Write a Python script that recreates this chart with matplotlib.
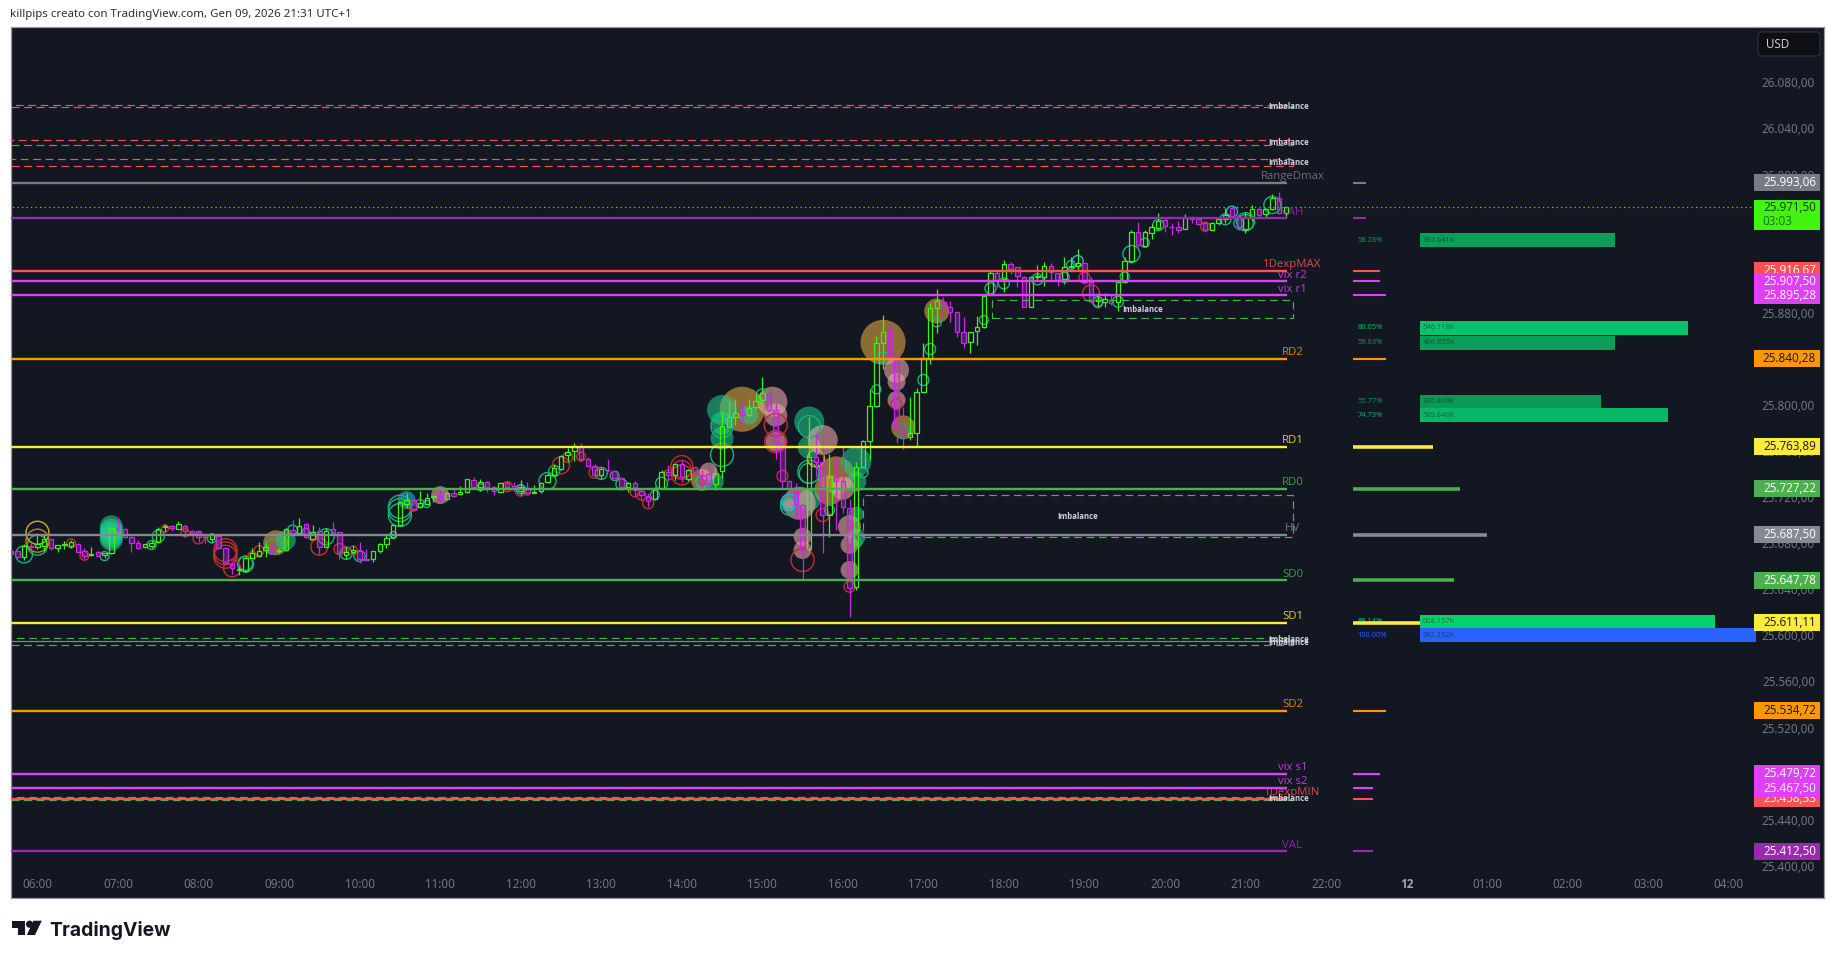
import matplotlib
matplotlib.use("Agg")
import matplotlib.pyplot as plt
import numpy as np
from matplotlib.patches import FancyBboxPatch, Polygon, Circle, Rectangle
from matplotlib.transforms import Affine2D

# 5 minute candles, first one is four bars before the 06:00 tick
first_bar = -4
opens = [
    25673.5, 25673.2, 25667.7, 25677.8, 25677.0, 25677.5, 25683.3, 25675.5, 25678.1, 25677.8,
    25679.0, 25673.5, 25669.4, 25672.0, 25669.4, 25671.2, 25692.6, 25692.0, 25685.0, 25679.9,
    25676.4, 25677.5, 25681.3, 25694.3, 25695.2, 25692.6, 25695.2, 25690.9, 25690.9, 25685.6,
    25683.9, 25686.2, 25675.5, 25661.9, 25656.7, 25656.1, 25667.4, 25669.2, 25674.4, 25676.4,
    25673.2, 25674.0, 25691.4, 25689.1, 25696.4, 25683.6, 25690.3, 25677.0, 25692.0, 25689.4,
    25669.7, 25672.3, 25673.5, 25666.0, 25666.5, 25673.5, 25679.3, 25685.6, 25695.8, 25714.3,
    25717.5, 25711.1, 25714.3, 25720.4, 25721.2, 25718.1, 25723.3, 25722.4, 25724.1, 25734.8,
    25729.1, 25733.4, 25729.1, 25724.8, 25732.0, 25730.0, 25725.7, 25727.4, 25723.9, 25725.7,
    25733.2, 25739.3, 25744.5, 25756.3, 25760.4, 25763.8, 25752.9, 25747.1, 25739.3, 25743.9,
    25742.7, 25736.9, 25729.1, 25732.6, 25725.4, 25721.3, 25718.7, 25727.7, 25741.6, 25739.0,
    25748.5, 25736.1, 25745.9, 25739.3, 25739.8, 25731.2, 25742.4, 25781.2, 25789.9, 25793.7,
    25791.3, 25798.0, 25804.4, 25810.2, 25795.7, 25767.3, 25733.8, 25726.8, 25713.5, 25675.0,
    25755.2, 25750.3, 25704.2, 25737.2, 25733.8, 25710.9, 25642.3, 25746.5, 25768.5, 25799.4,
    25853.5, 25863.6, 25841.9, 25780.6, 25771.9, 25775.4, 25810.9, 25839.6, 25883.9, 25889.7,
    25885.3, 25880.4, 25863.6, 25854.9, 25864.5, 25867.4, 25895.7, 25914.3, 25909.3, 25922.1,
    25919.5, 25911.4, 25885.3, 25911.4, 25911.4, 25920.9, 25914.8, 25909.3, 25919.5, 25920.6,
    25922.9, 25906.5, 25890.2, 25889.7, 25890.8, 25889.7, 25907.0, 25924.7, 25950.4, 25938.3,
    25949.6, 25953.9, 25960.6, 25954.8, 25954.2, 25953.0, 25962.6, 25961.4, 25958.3, 25952.2,
    25958.3, 25961.2, 25970.7, 25963.5, 25953.0, 25962.9, 25969.8, 25965.5, 25970.1, 25979.4,
    25966.4,
]
highs = [
    25674.0, 25674.0, 25679.3, 25679.9, 25689.1, 25687.1, 25683.9, 25678.4, 25681.6, 25682.7,
    25679.9, 25675.5, 25676.4, 25673.5, 25671.8, 25694.3, 25701.6, 25692.9, 25686.2, 25682.7,
    25679.6, 25682.7, 25694.3, 25696.6, 25695.8, 25699.2, 25696.4, 25691.4, 25691.4, 25687.1,
    25688.5, 25687.1, 25677.0, 25663.9, 25659.6, 25668.9, 25675.5, 25681.0, 25679.9, 25679.9,
    25675.2, 25692.9, 25700.1, 25702.1, 25697.2, 25695.8, 25694.3, 25692.9, 25698.4, 25690.0,
    25677.5, 25678.4, 25681.3, 25674.6, 25673.5, 25679.9, 25687.1, 25696.6, 25716.1, 25723.9,
    25719.0, 25725.3, 25723.3, 25721.8, 25727.6, 25724.4, 25727.6, 25729.6, 25735.7, 25737.2,
    25735.4, 25734.0, 25729.6, 25732.6, 25734.3, 25733.5, 25734.9, 25733.5, 25730.6, 25733.5,
    25740.7, 25748.8, 25756.6, 25762.4, 25766.8, 25766.8, 25754.6, 25748.8, 25745.9, 25753.1,
    25743.6, 25737.8, 25733.2, 25734.3, 25727.7, 25723.3, 25729.1, 25743.6, 25747.9, 25748.8,
    25752.3, 25744.2, 25746.5, 25743.6, 25748.8, 25745.0, 25794.2, 25803.8, 25805.0, 25802.9,
    25805.0, 25810.2, 25824.0, 25811.6, 25802.0, 25768.2, 25734.9, 25732.0, 25714.7, 25789.9,
    25776.0, 25769.6, 25757.5, 25755.2, 25763.3, 25718.1, 25750.8, 25769.6, 25813.6, 25859.9,
    25878.1, 25870.3, 25846.3, 25798.5, 25807.2, 25814.4, 25853.5, 25888.2, 25900.4, 25894.0,
    25890.5, 25880.4, 25876.0, 25863.6, 25877.2, 25894.9, 25916.6, 25917.2, 25925.8, 25924.4,
    25919.5, 25912.0, 25912.0, 25921.5, 25924.4, 25923.5, 25914.8, 25928.2, 25928.2, 25935.1,
    25922.9, 25911.4, 25897.5, 25896.9, 25895.5, 25908.5, 25928.2, 25951.9, 25959.1, 25951.9,
    25957.1, 25966.4, 25961.2, 25958.3, 25959.4, 25965.8, 25964.0, 25963.5, 25959.1, 25959.1,
    25962.9, 25970.7, 25972.1, 25964.9, 25967.8, 25973.6, 25970.7, 25970.7, 25983.1, 25984.9,
    25971.6,
]
lows = [
    25669.7, 25666.8, 25665.4, 25675.5, 25675.0, 25673.5, 25674.0, 25672.6, 25675.0, 25676.1,
    25672.0, 25666.0, 25669.2, 25668.9, 25667.4, 25670.6, 25690.0, 25684.2, 25672.6, 25675.0,
    25676.1, 25675.5, 25680.4, 25690.0, 25690.9, 25692.0, 25685.6, 25688.0, 25680.7, 25680.4,
    25681.3, 25675.5, 25661.9, 25653.2, 25652.4, 25655.3, 25666.8, 25668.3, 25668.3, 25670.3,
    25671.2, 25673.5, 25685.6, 25688.5, 25684.8, 25683.3, 25670.6, 25676.4, 25688.5, 25666.5,
    25666.0, 25670.6, 25663.0, 25664.5, 25663.9, 25671.8, 25675.8, 25684.2, 25694.9, 25710.2,
    25708.2, 25710.2, 25713.4, 25716.0, 25716.3, 25717.5, 25719.8, 25721.8, 25723.6, 25727.9,
    25725.6, 25724.7, 25721.8, 25724.2, 25727.7, 25725.7, 25721.9, 25723.3, 25723.9, 25723.9,
    25732.6, 25738.4, 25743.6, 25750.8, 25751.4, 25751.4, 25746.5, 25737.8, 25735.5, 25742.1,
    25735.5, 25728.0, 25724.8, 25719.9, 25718.1, 25711.8, 25717.5, 25726.8, 25734.9, 25734.9,
    25733.5, 25734.3, 25739.3, 25726.8, 25729.7, 25726.2, 25736.4, 25779.8, 25782.7, 25785.6,
    25789.9, 25796.3, 25802.9, 25794.2, 25753.4, 25726.8, 25726.2, 25700.8, 25648.1, 25672.7,
    25737.8, 25671.8, 25685.7, 25691.5, 25706.0, 25615.7, 25639.4, 25745.9, 25752.3, 25798.5,
    25830.9, 25839.0, 25766.7, 25761.5, 25769.6, 25763.8, 25810.1, 25835.5, 25862.2, 25875.2,
    25872.3, 25859.3, 25849.2, 25844.8, 25852.0, 25866.5, 25895.2, 25902.1, 25898.3, 25913.7,
    25902.1, 25885.3, 25885.3, 25908.5, 25903.3, 25908.5, 25903.3, 25905.0, 25918.6, 25917.2,
    25905.0, 25888.2, 25885.3, 25885.3, 25886.8, 25881.9, 25906.2, 25923.5, 25937.4, 25937.4,
    25943.8, 25951.9, 25950.4, 25947.5, 25949.0, 25952.8, 25957.7, 25956.5, 25950.4, 25951.9,
    25956.2, 25957.7, 25962.0, 25951.9, 25949.0, 25960.0, 25963.5, 25963.5, 25969.3, 25965.8,
    25962.0,
]
closes = [
    25670.6, 25667.7, 25677.8, 25677.0, 25679.3, 25683.3, 25675.5, 25678.1, 25679.0, 25680.7,
    25672.6, 25669.2, 25670.3, 25669.2, 25671.2, 25692.9, 25692.0, 25685.0, 25680.4, 25675.8,
    25679.0, 25680.4, 25692.6, 25695.2, 25693.2, 25696.4, 25690.9, 25688.8, 25685.0, 25685.0,
    25686.8, 25676.1, 25662.5, 25658.4, 25657.3, 25667.4, 25671.2, 25672.9, 25676.4, 25671.8,
    25674.0, 25692.0, 25688.5, 25695.2, 25685.4, 25690.0, 25677.0, 25690.9, 25689.1, 25671.2,
    25672.6, 25673.8, 25666.0, 25665.4, 25672.9, 25679.3, 25684.2, 25695.5, 25715.5, 25717.2,
    25710.0, 25714.6, 25719.5, 25721.2, 25716.9, 25723.3, 25721.0, 25724.1, 25735.4, 25728.5,
    25733.1, 25728.5, 25725.0, 25732.0, 25729.1, 25726.8, 25729.1, 25723.9, 25724.8, 25732.6,
    25739.5, 25745.1, 25756.0, 25759.2, 25764.7, 25752.9, 25747.4, 25739.3, 25744.8, 25743.3,
    25736.6, 25729.1, 25732.6, 25726.2, 25721.9, 25717.0, 25728.0, 25741.6, 25739.0, 25748.5,
    25737.2, 25743.3, 25740.7, 25738.7, 25731.2, 25740.7, 25781.8, 25789.9, 25793.4, 25791.6,
    25797.1, 25803.8, 25810.2, 25795.7, 25767.3, 25734.3, 25727.4, 25714.1, 25674.1, 25755.2,
    25750.8, 25704.5, 25737.2, 25734.3, 25711.8, 25641.4, 25746.5, 25768.5, 25799.2, 25853.5,
    25863.6, 25841.9, 25779.7, 25771.9, 25775.4, 25811.5, 25839.6, 25883.9, 25890.2, 25885.3,
    25880.4, 25863.6, 25854.1, 25863.6, 25867.4, 25894.9, 25914.3, 25908.5, 25922.1, 25918.3,
    25912.2, 25885.3, 25911.4, 25912.2, 25920.9, 25915.1, 25908.5, 25919.5, 25920.6, 25922.9,
    25906.5, 25890.5, 25891.1, 25891.7, 25888.8, 25907.0, 25924.7, 25950.4, 25938.9, 25949.9,
    25954.2, 25960.0, 25955.4, 25954.2, 25952.2, 25962.0, 25961.7, 25957.4, 25951.9, 25957.7,
    25961.2, 25964.6, 25963.5, 25952.5, 25963.5, 25969.8, 25964.9, 25970.1, 25979.7, 25966.4,
    25971.5,
]

# bubbles: bar, price, diameter
green_ring_bars = [-2, 0, 10, 17, 18, 26, 31, 31, 35, 38, 40, 43, 46, 48, 53, 54, 54, 54, 57, 58, 66,
                   76, 77, 84, 86, 87, 92, 93, 102, 102, 108, 115, 115, 115, 112, 112, 123, 122, 118,
                   125, 126, 129, 132, 133, 134, 141, 142, 144, 149, 153, 154, 161, 162, 163, 165,
                   167, 177, 179, 180, 180, 184]
green_ring_prices = [25670.3, 25678.4, 25668.9, 25678.4, 25686.2, 25684.2, 25661.9, 25662.5, 25677.0,
                     25691.4, 25690.0, 25685.6, 25671.2, 25668.9, 25687.1, 25711.7, 25708.8, 25704.5,
                     25714.6, 25714.0, 25728.5, 25734.0, 25742.7, 25740.7, 25738.4, 25731.2, 25721.9,
                     25732.0, 25756.6, 25781.2, 25808.7, 25781.2, 25742.1, 25740.7, 25714.7, 25711.8,
                     25741.3, 25680.5, 25708.9, 25813.6, 25841.3, 25776.2, 25821.7, 25848.6, 25871.7,
                     25873.8, 25901.2, 25905.6, 25909.1, 25910.8, 25921.5, 25889.7, 25911.4, 25931.1,
                     25940.9, 25956.2, 25961.2, 25957.7, 25959.1, 25958.3, 25973.6]
green_ring_sizes = [17, 20, 9, 9, 12, 9, 16, 14, 15, 10, 7, 16, 12, 11, 7, 23, 23, 23, 8, 7, 7,
                    17, 11, 12, 9, 11, 9, 12, 23, 22, 12, 22, 23, 20, 17, 17, 10, 10, 10,
                    9, 11, 12, 11, 11, 9, 9, 11, 11, 11, 10, 9, 11, 9, 17, 9, 11, 11, 10, 18, 16, 17]

red_ring_bars = [7, 5, 19, 22, 24, 28, 28, 28, 29, 32, 33, 41, 42, 45, 47, 56, 70, 72, 73, 78, 79, 81,
                 83, 89, 90, 91, 94, 96, 96, 96, 110, 110, 111, 114, 117, 121, 128, 156, 157, 158, 174]
red_ring_prices = [25669.2, 25679.9, 25692.9, 25689.1, 25684.2, 25674.0, 25671.2, 25668.3, 25658.2,
                   25669.2, 25673.5, 25685.6, 25677.0, 25675.0, 25673.5, 25712.3, 25729.1, 25725.7,
                   25724.8, 25747.6, 25754.6, 25755.2, 25741.3, 25724.2, 25721.3, 25714.7, 25739.3,
                   25746.5, 25743.6, 25739.3, 25782.7, 25768.2, 25738.4, 25665.5, 25704.5, 25642.3,
                   25800.8, 25910.5, 25896.9, 25888.2, 25954.8]
red_ring_sizes = [9, 9, 7, 8, 11, 23, 23, 23, 17, 8, 10, 8, 17, 11, 9, 10, 10, 11, 7, 17, 10, 9,
                  11, 9, 9, 11, 10, 22, 19, 20, 23, 22, 11, 23, 13, 11, 11, 11, 17, 9, 9]

cyan_ring_bars = [72, 99, 155, 158, 178, 112]
cyan_ring_prices = [25726.8, 25733.5, 25925.0, 25889.7, 25967.8, 25716.1]
cyan_ring_sizes = [9, 12, 11, 10, 11, 15]

yellow_ring_bars = [0, 116]
yellow_ring_prices = [25689.1, 25753.7]
yellow_ring_sizes = [23, 17]
orange_ring_bars = [0]
orange_ring_prices = [25682.2]
orange_ring_sizes = [23]

teal_bars = [11, 11, 11, 11, 11, 37, 101, 102, 102, 102, 106, 115, 115, 115, 122, 122, 122, 122]
teal_prices = [25694.3, 25691.4, 25688.5, 25685.6, 25683.3, 25682.7, 25733.5, 25795.7, 25784.1, 25771.1,
               25791.3, 25785.6, 25763.3, 25717.5, 25750.8, 25733.5, 25705.4, 25685.1]
teal_sizes = [23, 23, 23, 23, 23, 20, 17, 30, 23, 23, 19, 30, 23, 22, 30, 20, 15, 18]

blue_bars = [55, 112]
blue_prices = [25717.5, 25714.1]
blue_sizes = [18, 14]

pink_bars = [60, 100, 109.5, 110, 110, 117, 113.5, 114, 114, 120, 121, 121, 121, 128, 128, 128]
pink_prices = [25721.8, 25742.2, 25802.9, 25791.3, 25768.2, 25769.6, 25714.7, 25685.7, 25674.1, 25727.7,
               25694.4, 25678.5, 25656.8, 25830.3, 25820.2, 25804.3]
pink_sizes = [18, 18, 30, 23, 20, 30, 33, 18, 18, 23, 23, 18, 18, 25, 18, 18]

gold_bars = [35.5, 99, 105, 119, 118, 126, 129, 134]
gold_prices = [25680.4, 25734.9, 25796.3, 25739.3, 25726.2, 25854.4, 25780.6, 25881.6]
gold_sizes = [25, 22, 45, 37, 30, 45, 24, 25]

# horizontal levels
level_names = ["RangeDmax", "VAH", "1DexpMAX", "vix r2", "vix r1", "RD2", "RD1", "RD0", "HV", "SD0",
               "SD1", "SD2", "vix s1", "vix s2", "1DexpMIN", "VAL"]
level_prices = [25993.06, 25962.0, 25916.67, 25907.50, 25895.28, 25840.28, 25763.89, 25727.22, 25687.50,
                25647.78, 25611.11, 25534.72, 25479.72, 25467.50, 25458.33, 25412.50]
level_colors = ["#787b86", "#9c27b0", "#ff5252", "#e040fb", "#e040fb", "#ff9800", "#ffeb3b", "#4caf50",
                "#868993", "#4caf50", "#ffeb3b", "#ff9800", "#e040fb", "#e040fb", "#ff5252", "#9c27b0"]
level_stubs = [2, 2, 4, 4, 5, 5, 12, 16, 20, 15, 10, 5, 4, 3, 3, 3]

# imbalance boxes
imb_tops = [26060.2, 26029.8, 26013.3, 25598.0, 25595.4, 25460.0, 25721.6, 25891.2]
imb_bottoms = [26058.4, 26025.4, 26007.2, 25595.4, 25591.7, 25457.0, 25685.2, 25875.3]
imb_starts = [-6, -6, -6, -6, -6, -6, 123, 142.2]
imb_label_bars = [186.5, 186.5, 186.5, 186.5, 186.5, 186.5, 155, 164.6]
imb_colors = ["#ff5252", "#ff5252", "#ff5252", "#4caf50", "#4caf50", "#4caf50", "#4caf50", "#4caf50"]

# volume rows on the right
row_prices = [25943.0, 25867.0, 25854.0, 25803.0, 25791.0, 25612.0, 25600.0]
row_percents = [58.28, 80.05, 59.63, 55.77, 74.73, 89.14, 100.00]
row_volumes = ["397.641K", "546.118K", "406.855K", "380.469K", "509.846K", "608.157K", "682.252K"]
row_colors = ["#0a9e58", "#05c46b", "#0a9e58", "#0a9a55", "#06b866", "#02d26c", "#2962ff"]

time_ticks = [0, 12, 24, 36, 48, 60, 72, 84, 96, 108, 120, 132, 144, 156, 168, 180, 192, 204, 216, 228, 240, 252]
time_labels = ["06:00", "07:00", "08:00", "09:00", "10:00", "11:00", "12:00", "13:00", "14:00", "15:00", "16:00",
               "17:00", "18:00", "19:00", "20:00", "21:00", "22:00", "12", "01:00", "02:00", "03:00", "04:00"]
price_ticks = [25400, 25440, 25480, 25520, 25560, 25600, 25640, 25680, 25720, 25760, 25800, 25840, 25880,
               25920, 25960, 26000, 26040, 26080]
last_price = 25971.50
countdown = "03:03"

BG = "#131722"
GREEN = "#3cf50c"
MAGENTA = "#c926e8"
DARK_TEXT = ["#ff9800", "#ffeb3b"]
FONT = "Open Sans"


def main():
    fig, ax = make_axes()
    draw_bubbles(ax)
    draw_candles(ax)
    draw_levels(ax)
    draw_imbalances(ax)
    draw_rows(ax)
    draw_price_labels(ax)
    draw_furniture(fig)
    fig.savefig("out.png", dpi=100, facecolor="white")


def fmt_price(p):
    return f"{p:,.2f}".replace(",", "X").replace(".", ",").replace("X", ".")


def make_axes():
    fig = plt.figure(figsize=(18.35, 9.58), dpi=100, facecolor="white")
    ax = fig.add_axes([10.5 / 1835, 1 - 897.5 / 958, 1813.5 / 1835, 870.5 / 958], facecolor=BG)
    ax.set_xlim(-4.02, 266.2)
    ax.set_ylim(25372.5, 26128.1)
    for spine in ax.spines.values():
        spine.set_color("#9598a1")
        spine.set_linewidth(0.9)

    ax.set_xticks(time_ticks, labels=time_labels, fontname=FONT, fontsize=8.4)
    ax.tick_params(axis="x", length=0, pad=-14.2, colors="#787b86")
    for label in ax.get_xticklabels():
        if label.get_text() == "12":
            label.set_fontweight("bold")
            label.set_color("#a3a6af")

    ax.yaxis.tick_right()
    ax.set_yticks(price_ticks, labels=[fmt_price(p) for p in price_ticks], fontname=FONT, fontsize=8.4)
    ax.tick_params(axis="y", length=0, pad=-6.5, colors="#787b86")
    plt.setp(ax.get_yticklabels(), ha="right")
    return fig, ax


def bubble(ax, bars, prices, sizes, color, filled=False, alpha=1.0):
    s = (np.array(sizes) * 0.72) ** 2
    if filled:
        ax.scatter(bars, prices, s=s, color=color, alpha=alpha, linewidths=0, zorder=2)
    else:
        ax.scatter(bars, prices, s=s, facecolors="none", edgecolors=color, alpha=alpha, linewidths=1.0, zorder=2.2)


def draw_bubbles(ax):
    bubble(ax, gold_bars, gold_prices, gold_sizes, "#c8963c", True, 0.68)
    bubble(ax, teal_bars, teal_prices, teal_sizes, "#1fd08e", True, 0.55)
    bubble(ax, blue_bars, blue_prices, blue_sizes, "#1a9fb5", True, 0.7)
    bubble(ax, pink_bars, pink_prices, pink_sizes, "#eda6a6", True, 0.6)
    bubble(ax, green_ring_bars, green_ring_prices, green_ring_sizes, "#12b37c")
    bubble(ax, red_ring_bars, red_ring_prices, red_ring_sizes, "#c42e2e")
    bubble(ax, cyan_ring_bars, cyan_ring_prices, cyan_ring_sizes, "#1fb6c9")
    bubble(ax, yellow_ring_bars, yellow_ring_prices, yellow_ring_sizes, "#d2b10f")
    bubble(ax, orange_ring_bars, orange_ring_prices, orange_ring_sizes, "#c8801a")


def draw_candles(ax):
    bars = np.arange(first_bar, first_bar + len(opens))
    o = np.array(opens)
    c = np.array(closes)
    tops = np.maximum(o, c)
    bottoms = np.minimum(o, c)
    colors = [GREEN if b >= a else MAGENTA for a, b in zip(opens, closes)]
    faces = ["none" if col == GREEN else (0.79, 0.15, 0.91, 0.35) for col in colors]
    ax.vlines(bars, tops, highs, colors=colors, linewidth=0.9, zorder=3)
    ax.vlines(bars, lows, bottoms, colors=colors, linewidth=0.9, zorder=3)
    ax.bar(bars, tops - bottoms, bottom=bottoms, width=0.66, facecolor=faces, edgecolor=colors,
           linewidth=0.9, zorder=3)


def draw_levels(ax):
    for name, price, color, stub in zip(level_names, level_prices, level_colors, level_stubs):
        ax.plot([-6, 186.2], [price, price], color=color, linewidth=1.7, solid_capstyle="butt", zorder=4)
        ax.plot([196, 196 + stub], [price, price], color=color, linewidth=2.6 if stub >= 10 else 1.5,
                solid_capstyle="butt", zorder=4)
        ax.annotate(name, (187, price), xytext=(0, 4.4), textcoords="offset points", ha="center", va="center",
                    color=color, alpha=0.85, fontname=FONT, fontsize=8.2, zorder=5)
    ax.plot([-6, 255.5], [last_price, last_price], color=GREEN, linewidth=0.9, linestyle=(0, (1, 2.6)), zorder=2.8)


def draw_imbalances(ax):
    for top, bottom, start, label_bar, color in zip(imb_tops, imb_bottoms, imb_starts, imb_label_bars, imb_colors):
        ax.add_patch(Rectangle((start, bottom), 187.1 - start, top - bottom, fill=False, edgecolor=color,
                               linewidth=0.85, linestyle=(0, (6.5, 4)), zorder=4.5))
        ax.text(label_bar, (top + bottom) / 2, "Imbalance", ha="center", va="center", color="#d1d4dc",
                fontname=FONT, fontweight="bold", fontsize=5.6, zorder=5)


def draw_rows(ax):
    for price, percent, volume, color in zip(row_prices, row_percents, row_volumes, row_colors):
        ax.barh(price, int(percent / 2), left=206, height=12, color=color, zorder=3)
        ax.text(196.7, price, f"{percent:.2f}%", ha="left", va="center", color=color, fontname=FONT,
                fontsize=5.4, zorder=3.5)
        ax.text(206.4, price, volume, ha="left", va="center", color=(0.05, 0.09, 0.13, 0.55), fontname=FONT,
                fontsize=5.4, zorder=3.5)


def draw_price_labels(ax):
    trans = ax.get_yaxis_transform()
    x0 = (1754 - 10.5) / 1813.5
    w = 66 / 1813.5
    for name, price, color in zip(level_names, level_prices, level_colors):
        if name == "VAH":
            continue
        z = 6 if name.startswith("1Dexp") else 7
        text_color = "#131722" if color in DARK_TEXT else "white"
        ax.add_patch(Rectangle((x0, price - 7.4), w, 14.8, transform=trans, facecolor=color, zorder=z))
        ax.text(0.99559, price, fmt_price(price), transform=trans, ha="right", va="center", color=text_color,
                fontname=FONT, fontsize=8.4, zorder=z + 0.5)
    # current price with the candle countdown
    ax.add_patch(Rectangle((x0, last_price - 20), w, 26.6, transform=trans, facecolor="#41f50f", zorder=7))
    ax.text(0.99559, last_price, fmt_price(last_price), transform=trans, ha="right", va="center", color="#0e3b10",
            fontname=FONT, fontsize=8.4, zorder=7.5)
    ax.text((1762 - 10.5) / 1813.5, last_price - 12.5, countdown, transform=trans, ha="left", va="center",
            color="#14701a", fontname=FONT, fontsize=8.4, zorder=7.5)


def draw_furniture(fig):
    px = Affine2D().scale(1, -1).translate(0, 958)
    fig.text(10.5, 15, "killpips creato con TradingView.com, Gen 09, 2026 21:31 UTC+1", transform=px, ha="left",
             va="center", color="#2e2e2e", fontname="Noto Sans", fontsize=8.28)

    fig.add_artist(FancyBboxPatch((1758, 32), 62, 24, boxstyle="round,pad=0,rounding_size=4", transform=px,
                                  facecolor="#0e0f12", edgecolor="#2a2e39", linewidth=1))
    fig.text(1766, 44.5, "USD", transform=px, ha="left", va="center", color="#d1d4dc", fontname=FONT, fontsize=8.4)

    # logo
    fig.add_artist(Polygon([(12, 920.7), (25, 920.7), (25, 935), (17.8, 935), (17.8, 927.6), (12, 927.6)],
                           transform=px, facecolor="#131722", edgecolor="none"))
    fig.add_artist(Circle((29.6, 924.2), 3.6, transform=px, facecolor="#131722", edgecolor="none"))
    fig.add_artist(Polygon([(33.5, 920.7), (41.8, 920.7), (35, 935), (26.8, 935)], transform=px,
                           facecolor="#131722", edgecolor="none"))
    fig.text(49.5, 936.5, "TradingView", transform=px, ha="left", va="baseline", color="#131722", fontname="Inter",
             fontweight="bold", fontsize=13.9)


if __name__ == "__main__":
    main()
